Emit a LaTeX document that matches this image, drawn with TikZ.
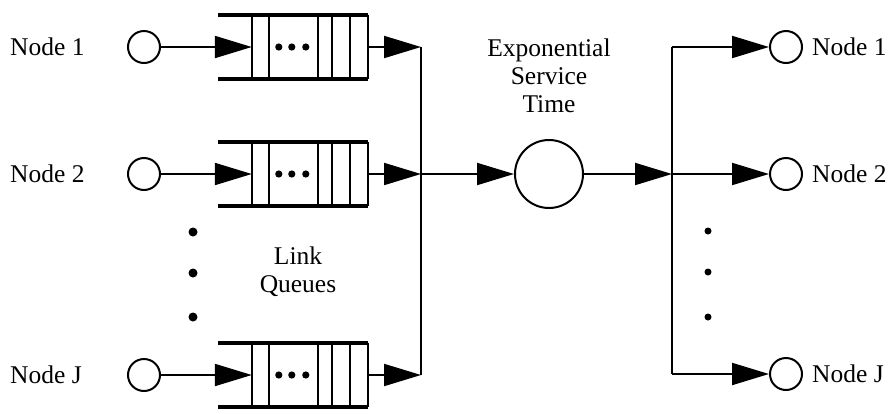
\documentclass[tikz,border=0pt]{standalone}
\usepackage{fontspec}
\setmainfont{Liberation Serif}
\usetikzlibrary{arrows.meta,calc}
\begin{document}
\begin{tikzpicture}[x=1pt,y=-1pt,
  every node/.style={font=\fontsize{25.5}{28}\selectfont},
  lbl/.style={inner sep=0pt,anchor=west},
  srcnode/.style={circle,draw,line width=2pt,minimum size=32pt,inner sep=0pt},
  srvnode/.style={circle,draw,line width=2pt,minimum size=68pt,inner sep=0pt},
  qbox/.style={rectangle,minimum width=150pt,minimum height=64pt,inner sep=0pt},
  wire/.style={line width=2pt},
  arr/.style={wire,-{Triangle[length=37pt,width=22pt]}},
  qedge/.style={line width=4pt},
  qcell/.style={line width=2pt},
]
\useasboundingbox (0,0) rectangle (895,413);
\foreach \r/\y/\lab in {1/47/Node 1,2/174/Node 2,J/375/Node J}{
  \node[lbl] at (10,\y) {\lab};
  \node[srcnode] (s\r) at (144,\y) {};
  \node[qbox] (q\r) at (293,\y) {};
  \draw[qedge] (q\r.north west) -- (q\r.north east);
  \draw[qedge] (q\r.south west) -- (q\r.south east);
  \foreach \dx in {34,51,100,114,132,150}
    \draw[qcell] ($(q\r.north west)+(\dx,0)$) -- ($(q\r.south west)+(\dx,0)$);
  \foreach \dx in {61,74,88}
    \fill ($(q\r.west)+(\dx,0)$) circle (3.6pt);
  \coordinate (in\r) at ($(q\r.west)+(34,0)$);
  \coordinate (j\r) at (421,\y);
  \draw[arr] (s\r.east) -- (in\r);
  \draw[arr] (q\r.east) -- (j\r);
}
\draw[wire] (j1) -- (jJ);
\node[srvnode] (srv) at (549,174) {};
\node[align=center,inner sep=0pt] (svc) at (549,76) {Exponential\\Service\\Time};
\draw[arr] (j2) -- (srv.west);
\coordinate (k2) at (672,174);
\draw[arr] (srv.east) -- (k2);
\foreach \r/\y/\lab in {1/47/Node 1,2/174/Node 2,J/374/Node J}{
  \coordinate (k\r) at (672,\y);
  \node[srcnode] (d\r) at (786,\y) {};
  \draw[arr] (k\r) -- (d\r.west);
  \node[lbl] at (812,\y) {\lab};
}
\draw[wire] (k1) -- (kJ);
\node[align=center,inner sep=0pt] (lq) at (298,272) {Link\\Queues};
\foreach \y in {232,273,317} \fill (193,\y) circle (4.5pt);
\foreach \y in {231,272,317} \fill (708,\y) circle (3.5pt);
\end{tikzpicture}
\end{document}
